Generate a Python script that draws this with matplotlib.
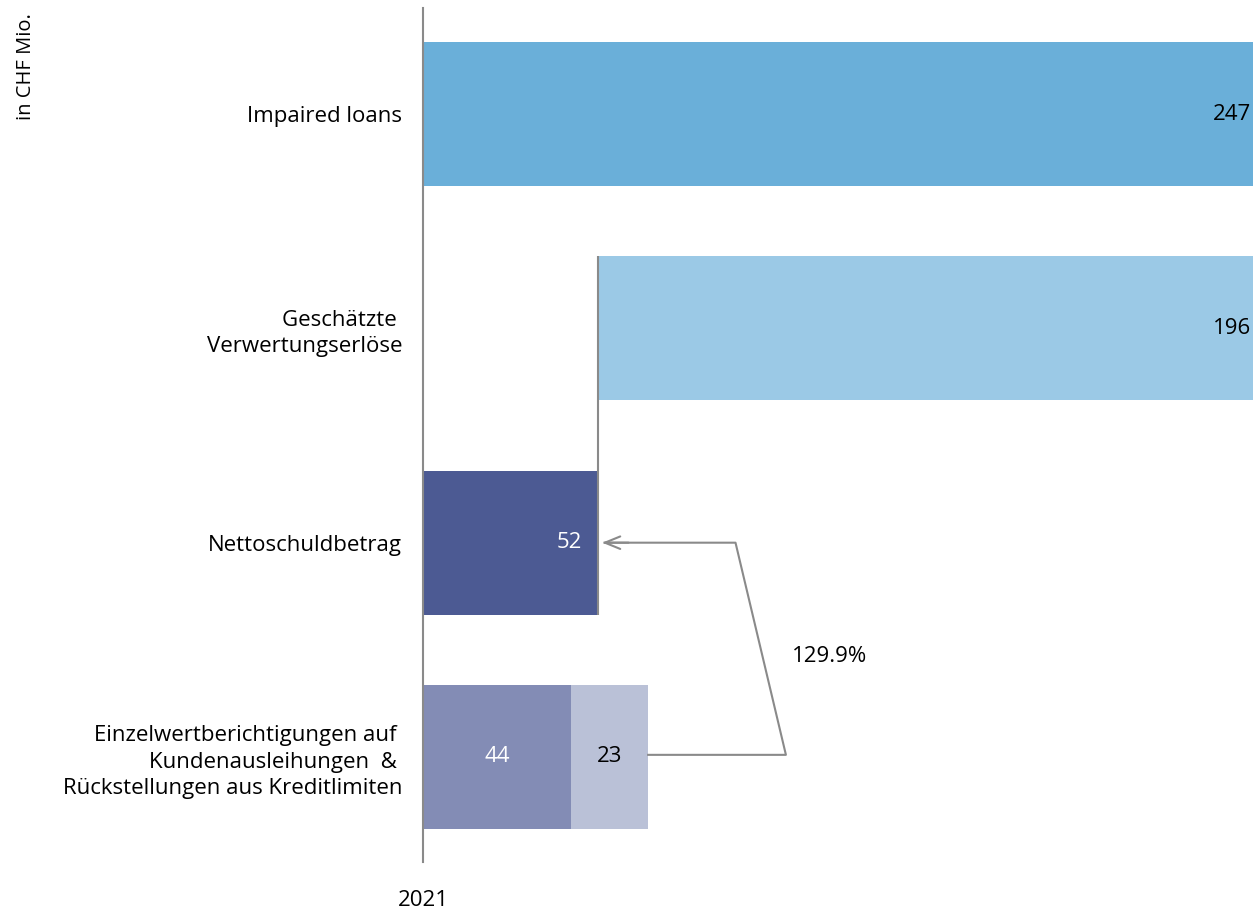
import matplotlib
matplotlib.use("Agg")
import matplotlib.pyplot as plt

plt.rcParams["font.family"] = ["Open Sans", "DejaVu Sans"]

# Waterfall of impaired loans, in CHF Mio.
categories = [
    "Impaired loans",
    "Geschätzte \nVerwertungserlöse",
    "Nettoschuldbetrag",
    "Einzelwertberichtigungen auf \nKundenausleihungen  & \nRückstellungen aus Kreditlimiten",
]
impaired = 247
recoveries = 196
net_debt = 52
allowances = 44
provisions = 23
coverage_label = "129.9%"
year_label = "2021"
unit_label = "in CHF Mio."

colors = {
    "impaired": "#6aafd9",
    "recoveries": "#9bc9e6",
    "net": "#4c5a93",
    "allowances": "#838cb5",
    "provisions": "#bac1d7",
}
axis_gray = "#8a8a8a"

fig = plt.figure(figsize=(12.53, 9.11), dpi=100)
ax = fig.add_axes([423 / 1253, 1 - 862 / 911, 1 - 423 / 1253, 854 / 911])

ypos = list(range(len(categories)))
h = 0.672

ax.barh(ypos[0], impaired, height=h, color=colors["impaired"])
# recoveries hang from the end of the net debt bar (clipped at the axis end)
ax.barh(ypos[1], recoveries, left=net_debt, height=h,
        color=colors["recoveries"])
ax.barh(ypos[2], net_debt, height=h, color=colors["net"])
ax.barh(ypos[3], allowances, height=h, color=colors["allowances"])
ax.barh(ypos[3], provisions, left=allowances, height=h,
        color=colors["provisions"])

ax.set_xlim(0, impaired)
ax.set_ylim(3.49, -0.495)

# value labels
fs = 16
ax.annotate(str(impaired), (impaired, ypos[0]), xytext=(-1, 0),
            textcoords="offset points", ha="right", va="center", fontsize=fs)
ax.annotate(str(recoveries), (impaired, ypos[1]), xytext=(-1, 0),
            textcoords="offset points", ha="right", va="center", fontsize=fs)
ax.annotate(str(net_debt), (net_debt, ypos[2]), xytext=(-11, 0),
            textcoords="offset points", ha="right", va="center", fontsize=fs,
            color="white")
ax.text(allowances / 2, ypos[3], str(allowances), ha="center", va="center",
        fontsize=fs, color="white")
ax.text(allowances + provisions / 2, ypos[3], str(provisions), ha="center",
        va="center", fontsize=fs, color="black")

# connector between the net debt bar and the recoveries bar
ax.plot([net_debt, net_debt], [ypos[1] - h / 2, ypos[2] + h / 2],
        color=axis_gray, lw=1.5, solid_capstyle="butt")

# coverage bracket from the allowances bar back to net debt
total = allowances + provisions
x_out, x_in = 108, 93
ax.plot([total, x_out, x_in, net_debt + 2],
        [ypos[3] - 0.01, ypos[3] - 0.01, ypos[2], ypos[2]],
        color=axis_gray, lw=1.5)
ax.annotate("", xy=(net_debt + 0.5, ypos[2]),
            xytext=(net_debt + 10, ypos[2]),
            arrowprops=dict(arrowstyle="->,head_length=1.1,head_width=0.45",
                            color=axis_gray, lw=1.5))
ax.text(121, 2.53, coverage_label, ha="center", va="center", fontsize=fs)

# axes styling: only the zero line remains
for side in ["top", "right", "bottom"]:
    ax.spines[side].set_visible(False)
ax.spines["left"].set_color(axis_gray)
ax.spines["left"].set_linewidth(1.5)
ax.set_xticks([])
ax.set_yticks(ypos)
ax.set_yticklabels(categories, fontsize=fs, linespacing=1.35)
ax.tick_params(axis="y", length=0, pad=15)

fig.text(423 / 1253, 1 - 900 / 911, year_label, ha="center", va="center",
         fontsize=fs)
fig.text(26 / 1253, 1 - 13 / 911, unit_label, rotation=90, ha="center",
         va="top", fontsize=14.5)

fig.savefig("out.png", dpi=100)
